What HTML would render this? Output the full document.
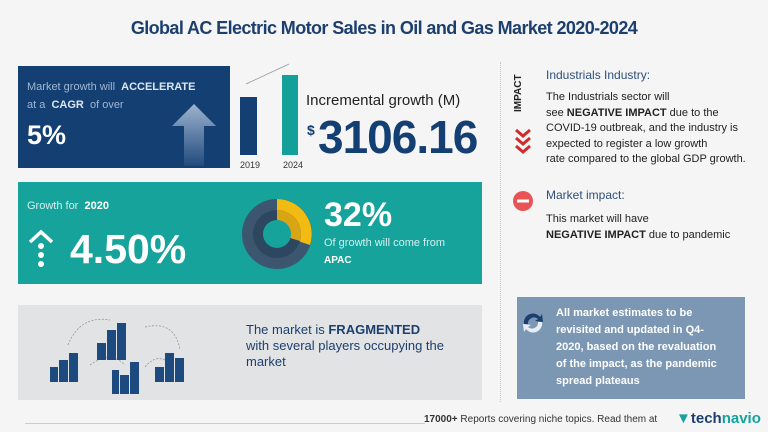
<!DOCTYPE html>
<html><head><style>
*{margin:0;padding:0;box-sizing:border-box}
body{width:768px;height:432px;background:#f5f5f6;font-family:"Liberation Sans",sans-serif;position:relative;overflow:hidden}
.a{position:absolute;white-space:nowrap}
</style></head><body>
<div class="a" style="left:113px;top:18px;width:542px;text-align:center;font-size:18px;font-weight:bold;color:#1d3f6e;letter-spacing:-0.6px">Global AC Electric Motor Sales in Oil and Gas Market 2020-2024</div>

<!-- dark box -->
<div class="a" style="left:18px;top:66px;width:212px;height:102px;background:#143f73"></div>
<div class="a" style="left:27px;top:78px;font-size:11px;color:#9fb6d2;line-height:18px">Market growth will &nbsp;<b style="color:#dde6f0">ACCELERATE</b><br>at a &nbsp;<b style="color:#dde6f0">CAGR</b>&nbsp; of over</div>
<div class="a" style="left:27px;top:120px;font-size:27px;font-weight:bold;color:#fff">5%</div>
<svg class="a" style="left:170px;top:102px" width="48" height="66"><defs><linearGradient id="g" x1="0" y1="0" x2="0" y2="1"><stop offset="0" stop-color="#9db3cf"/><stop offset="1" stop-color="#9db3cf" stop-opacity="0.1"/></linearGradient></defs><polygon points="24,2 46,24 34,24 34,64 14,64 14,24 2,24" fill="url(#g)"/></svg>

<!-- bars -->
<svg class="a" style="left:236px;top:62px" width="70" height="110"><line x1="10" y1="22" x2="53" y2="2" stroke="#999" stroke-width="0.8"/><rect x="4" y="35" width="17" height="58" fill="#143f73"/><rect x="46" y="13" width="16" height="80" fill="#12a099"/></svg>
<div class="a" style="left:240px;top:160px;font-size:9px;color:#333">2019</div>
<div class="a" style="left:283px;top:160px;font-size:9px;color:#333">2024</div>
<div class="a" style="left:306px;top:92px;font-size:15px;color:#222">Incremental growth (M)</div>
<div class="a" style="left:307px;top:122px;font-size:14px;font-weight:bold;color:#143f73">$</div>
<div class="a" style="left:318px;top:110px;font-size:46px;font-weight:bold;color:#143f73;letter-spacing:-1px">3106.16</div>

<!-- teal box -->
<div class="a" style="left:18px;top:182px;width:464px;height:102px;background:#15a39b"></div>
<div class="a" style="left:27px;top:200px;font-size:11px;color:#d5efed">Growth for &nbsp;<b style="color:#fff">2020</b></div>
<svg class="a" style="left:27px;top:228px" width="30" height="42"><polyline points="3,14 14,4 25,14" fill="none" stroke="#fff" stroke-width="3.5"/><circle cx="14" cy="18" r="3" fill="#fff"/><circle cx="14" cy="27" r="3" fill="#fff"/><circle cx="14" cy="36" r="3" fill="#fff"/></svg>
<div class="a" style="left:70px;top:226px;font-size:41px;font-weight:bold;color:#fff">4.50%</div>
<svg class="a" style="left:241px;top:198px" width="72" height="72"><circle cx="36" cy="36" r="35" fill="#3c5670"/><path d="M36,36 L36,1 A35,35 0 0,1 69,47 Z" fill="#f2bb12"/><circle cx="36" cy="36" r="24" fill="#2e4761"/><path d="M36,36 L36,12 A24,24 0 0,1 59,43 Z" fill="#d9a514"/><circle cx="36" cy="36" r="14" fill="#15a39b"/></svg>
<div class="a" style="left:324px;top:196px;font-size:34px;font-weight:bold;color:#fff">32%</div>
<div class="a" style="left:324px;top:237px;font-size:11px;color:#d5efed">Of growth will come from</div>
<div class="a" style="left:324px;top:255px;font-size:10px;font-weight:bold;color:#fff">APAC</div>

<!-- right column -->
<div class="a" style="left:500px;top:62px;height:340px;border-left:1px dotted #c8c8c8"></div>
<div class="a" style="left:513px;top:68px;font-size:10px;font-weight:bold;color:#222;transform:rotate(-90deg);transform-origin:0 0;top:112px">IMPACT</div>
<svg class="a" style="left:513px;top:128px" width="20" height="30"><g fill="none" stroke="#d22a2a" stroke-width="3"><polyline points="3,2 10,8 17,2"/><polyline points="3,10 10,16 17,10"/><polyline points="3,18 10,24 17,18"/></g></svg>
<div class="a" style="left:546px;top:68px;font-size:12px;color:#2f4f78">Industrials Industry:</div>
<div class="a" style="left:546px;top:90px;font-size:11px;color:#222;line-height:15.5px">The Industrials sector will<br>see <b>NEGATIVE IMPACT</b> due to the<br>COVID-19 outbreak, and the industry is<br>expected to register a low growth<br>rate compared to the global GDP growth.</div>
<svg class="a" style="left:512px;top:190px" width="22" height="22"><circle cx="11" cy="11" r="10" fill="#e85454"/><rect x="5" y="9.5" width="12" height="3" fill="#fff"/></svg>
<div class="a" style="left:546px;top:188px;font-size:12px;color:#2f4f78">Market impact:</div>
<div class="a" style="left:546px;top:211px;font-size:11px;color:#222;line-height:16px">This market will have<br><b>NEGATIVE IMPACT</b> due to pandemic</div>

<!-- bottom gray -->
<div class="a" style="left:18px;top:305px;width:464px;height:95px;background:#e2e3e5"></div>
<svg class="a" style="left:50px;top:315px" width="145" height="80"><g fill="none" stroke="#999" stroke-width="0.8" stroke-dasharray="2,1.5"><path d="M18,30 Q30,0 60,5"/><path d="M95,12 Q125,5 130,35"/><path d="M40,50 Q60,35 75,50"/><path d="M95,52 Q105,40 115,45"/></g><g fill="#1d4b80"><rect x="57" y="15" width="9" height="30"/><rect x="67" y="8" width="9" height="37"/><rect x="47" y="28" width="9" height="17"/><rect x="9" y="45" width="9" height="22"/><rect x="19" y="38" width="9" height="29"/><rect x="0" y="52" width="8" height="15"/><rect x="80" y="47" width="9" height="32"/><rect x="70" y="60" width="9" height="19"/><rect x="62" y="55" width="7" height="24"/><rect x="115" y="38" width="9" height="29"/><rect x="125" y="43" width="9" height="24"/><rect x="105" y="52" width="9" height="15"/></g></svg>
<div class="a" style="left:246px;top:322px;font-size:13px;color:#1d3f6e;line-height:16px">The market is <b>FRAGMENTED</b><br>with several players occupying the<br>market</div>

<!-- blue-gray box -->
<div class="a" style="left:517px;top:297px;width:228px;height:102px;background:#7c97b3"></div>
<svg class="a" style="left:520px;top:310px" width="26" height="26"><path d="M4,14 A9,9 0 0,1 20,7 L22,4 L23,12 L15,11 L18,9 A6,6 0 0,0 8,14Z" fill="#1d3f6e"/><path d="M22,12 A9,9 0 0,1 6,19 L4,22 L3,14 L11,15 L8,17 A6,6 0 0,0 18,12Z" fill="#e6edf5"/></svg>
<div class="a" style="left:556px;top:305px;font-size:11px;font-weight:bold;color:#fff;line-height:17px">All market estimates to be<br>revisited and updated in Q4-<br>2020, based on the revaluation<br>of the impact, as the pandemic<br>spread plateaus</div>

<!-- footer -->
<div class="a" style="left:25px;top:423px;width:400px;border-top:1px solid #ccc"></div>
<div class="a" style="left:424px;top:414px;font-size:10px;color:#333"><b>17000+</b> Reports covering niche topics. Read them at</div>
<div class="a" style="left:676px;top:410px;font-size:15px;font-weight:bold;color:#1d3f6e"><span style="color:#15a39b">▼</span>tech<span style="color:#15a39b">navio</span></div>
</body></html>
